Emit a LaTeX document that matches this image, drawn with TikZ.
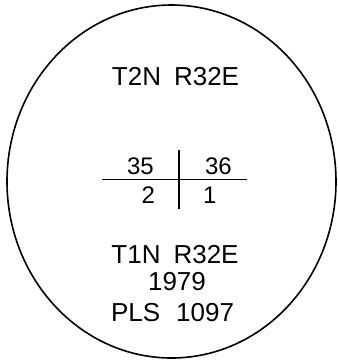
\documentclass[tikz,border=0pt]{standalone}
\usepackage{fontspec}
\setmainfont{Liberation Sans}
\begin{document}
\begin{tikzpicture}[x=1pt,y=-1pt,
  lbl/.style={inner sep=0pt, font=\fontsize{26}{30}\selectfont},
  num/.style={inner sep=0pt, font=\fontsize{24}{28}\selectfont},
  ln/.style={line width=1.8pt},
  rim/.style={line width=1.6pt}]
\useasboundingbox (0,0) rectangle (338,360);
\draw[rim] (171.5,181.5) ellipse [x radius=164.5, y radius=176.5];
\node[lbl] (t2n) at (175.5,76.5) {T2N\hspace{13pt}R32E};
\node[num] (n35) at (140.5,166.5) {35};
\node[num] (n36) at (218.5,166.5) {36};
\node[num] (n2) at (148.3,195.5) {2};
\node[num] (n1) at (209.7,195.5) {1};
\node[lbl] (t1n) at (175,254.5) {T1N\hspace{13pt}R32E};
\node[lbl] (yr) at (177,282) {1979};
\node[lbl] (pls) at (172.5,313) {PLS\hspace{16pt}1097};
\coordinate (hl) at (102,179.5);
\coordinate (hr) at (247,179.5);
\coordinate (vt) at (179,150);
\coordinate (vb) at (179,209);
\draw[ln] (hl) -- (hr);
\draw[ln] (vt) -- (vb);
\end{tikzpicture}
\end{document}
